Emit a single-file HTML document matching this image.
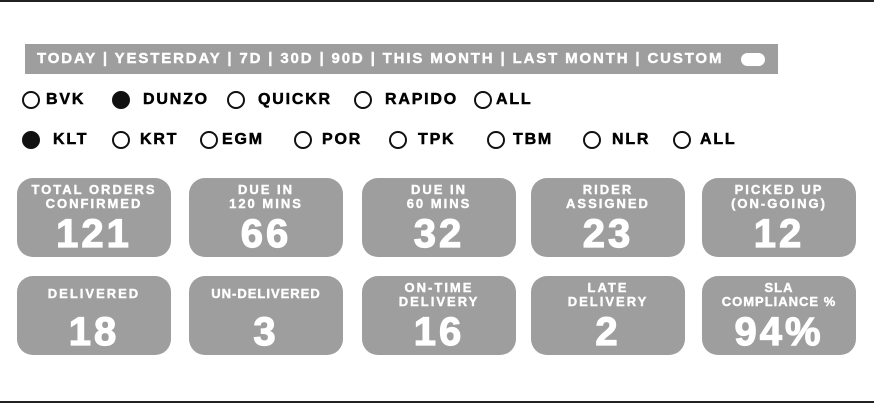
<!DOCTYPE html>
<html><head><meta charset="utf-8"><style>
body{margin:0;width:874px;height:405px;background:#fff;position:relative;overflow:hidden;font-family:"Liberation Sans",sans-serif;font-weight:bold}
.line{position:absolute;left:0;width:874px;height:2px;background:#222}
.bar{position:absolute;left:25px;top:44px;width:753px;height:30px;background:#9e9e9e;color:#fff;font-size:15px;letter-spacing:1.85px;line-height:30px;padding-left:12px;box-sizing:border-box;white-space:nowrap;-webkit-text-stroke:0.4px #fff}
.tog{position:absolute;left:741px;top:53px;width:24px;height:13px;border-radius:7px;background:#fff}
.r{position:absolute;font-size:16px;letter-spacing:1.8px;line-height:16px;white-space:nowrap;-webkit-text-stroke:0.5px #000}
.c{position:absolute;width:14px;height:14px;border:2px solid #111;border-radius:50%}
.c.f{background:#111}
.card{position:absolute;width:154px;height:79px;border-radius:16px;background:#9e9e9e;color:#fff;text-align:center}
.lb{position:absolute;left:0;right:0;top:5px;font-size:13px;line-height:14px;letter-spacing:2px;-webkit-text-stroke:0.4px #fff}
.v{position:absolute;left:0;right:0;top:35px;font-size:40px;line-height:42px;letter-spacing:3px;-webkit-text-stroke:1.2px #fff}
</style></head><body>
<div class="line" style="top:0"></div>
<div class="line" style="top:401px"></div>
<div class="bar">TODAY | YESTERDAY | 7D | 30D | 90D | THIS MONTH | LAST MONTH | CUSTOM</div>
<div class="tog"></div>
<div id="radios"></div>
<div id="cards"></div>
<script>
const row1=[["BVK",22,46,false],["DUNZO",112,143,true],["QUICKR",227,258,false],["RAPIDO",354,385,false],["ALL",474,496,false]];
const row2=[["KLT",22,53,true],["KRT",112,140,false],["EGM",200,222,false],["POR",294,322,false],["TPK",389,418,false],["TBM",487,513,false],["NLR",583,612,false],["ALL",673,700,false]];
const R=document.getElementById('radios');
function addRow(items,y){items.forEach(([t,cx,tx,f])=>{
 const c=document.createElement('div');c.className='c'+(f?' f':'');c.style.left=cx+'px';c.style.top=(y-9)+'px';
 
 
 R.appendChild(c);
 const s=document.createElement('div');s.className='r';s.textContent=t;s.style.left=tx+'px';s.style.top=(y-8)+'px';
 
 
 R.appendChild(s);});}
addRow(row1,100);addRow(row2,140);
const labels=[["TOTAL ORDERS","CONFIRMED"],["DUE IN","120 MINS"],["DUE IN","60 MINS"],["RIDER","ASSIGNED"],["PICKED UP","(ON-GOING)"],["","DELIVERED"],["","UN-DELIVERED"],["ON-TIME","DELIVERY"],["LATE","DELIVERY"],["SLA","COMPLIANCE %"]];
const values=["121","66","32","23","12","18","3","16","2","94%"];
const xs=[17,189,362,531,702];
const C=document.getElementById('cards');
labels.forEach((l,i)=>{
 const d=document.createElement('div');d.className='card';d.style.left=xs[i%5]+'px';d.style.top=(i<5?178:276)+'px';
 
 
 const lb=document.createElement('div');lb.className='lb';lb.innerHTML=(l[0]||'&nbsp;')+'<br>'+l[1];
 if(!l[0]){lb.style.top='11px';lb.innerHTML=l[1];}
 if(l[1].length>11)lb.style.letterSpacing='1px';
 
 
 const v=document.createElement('div');v.className='v';v.textContent=values[i];
 
 
 d.appendChild(lb);d.appendChild(v);C.appendChild(d);
});
</script>
</body></html>
